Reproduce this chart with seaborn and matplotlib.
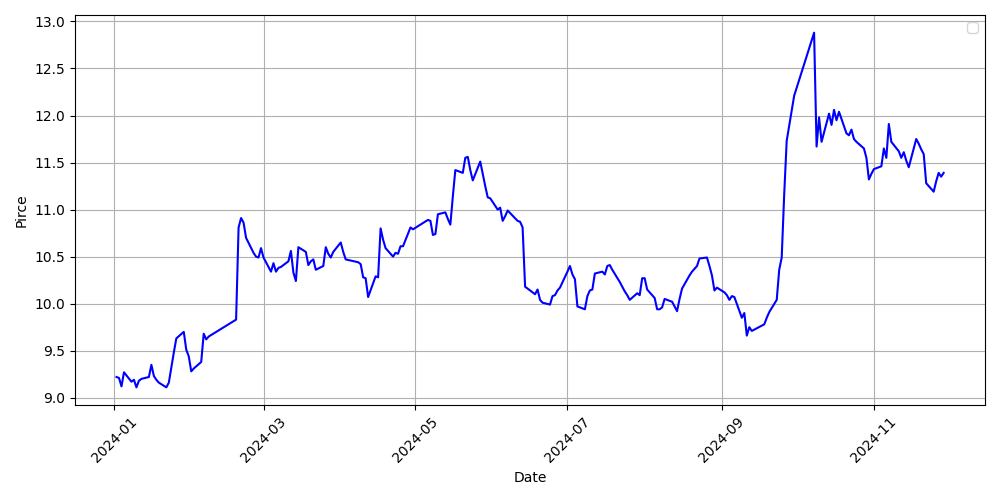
import matplotlib
matplotlib.use("Agg")
import matplotlib.pyplot as plt
import matplotlib.dates as mdates
import seaborn as sns
import pandas as pd

dates = [
    "2024-01-02", "2024-01-03", "2024-01-04", "2024-01-05", "2024-01-08", "2024-01-09",
    "2024-01-10", "2024-01-11", "2024-01-12", "2024-01-15", "2024-01-16", "2024-01-17",
    "2024-01-18", "2024-01-19", "2024-01-22", "2024-01-23", "2024-01-24", "2024-01-25",
    "2024-01-26", "2024-01-29", "2024-01-30", "2024-01-31", "2024-02-01", "2024-02-02",
    "2024-02-05", "2024-02-06", "2024-02-07", "2024-02-08", "2024-02-19", "2024-02-20",
    "2024-02-21", "2024-02-22", "2024-02-23", "2024-02-26", "2024-02-27", "2024-02-28",
    "2024-02-29", "2024-03-01", "2024-03-04", "2024-03-05", "2024-03-06", "2024-03-07",
    "2024-03-08", "2024-03-11", "2024-03-12", "2024-03-13", "2024-03-14", "2024-03-15",
    "2024-03-18", "2024-03-19", "2024-03-20", "2024-03-21", "2024-03-22", "2024-03-25",
    "2024-03-26", "2024-03-27", "2024-03-28", "2024-03-29", "2024-04-01", "2024-04-02",
    "2024-04-03", "2024-04-08", "2024-04-09", "2024-04-10", "2024-04-11", "2024-04-12",
    "2024-04-15", "2024-04-16", "2024-04-17", "2024-04-18", "2024-04-19", "2024-04-22",
    "2024-04-23", "2024-04-24", "2024-04-25", "2024-04-26", "2024-04-29", "2024-04-30",
    "2024-05-06", "2024-05-07", "2024-05-08", "2024-05-09", "2024-05-10", "2024-05-13",
    "2024-05-14", "2024-05-15", "2024-05-16", "2024-05-17", "2024-05-20", "2024-05-21",
    "2024-05-22", "2024-05-23", "2024-05-24", "2024-05-27", "2024-05-28", "2024-05-29",
    "2024-05-30", "2024-05-31", "2024-06-03", "2024-06-04", "2024-06-05", "2024-06-06",
    "2024-06-07", "2024-06-11", "2024-06-12", "2024-06-13", "2024-06-14", "2024-06-17",
    "2024-06-18", "2024-06-19", "2024-06-20", "2024-06-21", "2024-06-24", "2024-06-25",
    "2024-06-26", "2024-06-27", "2024-06-28", "2024-07-01", "2024-07-02", "2024-07-03",
    "2024-07-04", "2024-07-05", "2024-07-08", "2024-07-09", "2024-07-10", "2024-07-11",
    "2024-07-12", "2024-07-15", "2024-07-16", "2024-07-17", "2024-07-18", "2024-07-19",
    "2024-07-22", "2024-07-23", "2024-07-24", "2024-07-25", "2024-07-26", "2024-07-29",
    "2024-07-30", "2024-07-31", "2024-08-01", "2024-08-02", "2024-08-05", "2024-08-06",
    "2024-08-07", "2024-08-08", "2024-08-09", "2024-08-12", "2024-08-13", "2024-08-14",
    "2024-08-15", "2024-08-16", "2024-08-19", "2024-08-20", "2024-08-21", "2024-08-22",
    "2024-08-23", "2024-08-26", "2024-08-27", "2024-08-28", "2024-08-29", "2024-08-30",
    "2024-09-02", "2024-09-03", "2024-09-04", "2024-09-05", "2024-09-06", "2024-09-09",
    "2024-09-10", "2024-09-11", "2024-09-12", "2024-09-13", "2024-09-18", "2024-09-19",
    "2024-09-20", "2024-09-23", "2024-09-24", "2024-09-25", "2024-09-26", "2024-09-27",
    "2024-09-30", "2024-10-08", "2024-10-09", "2024-10-10", "2024-10-11", "2024-10-14",
    "2024-10-15", "2024-10-16", "2024-10-17", "2024-10-18", "2024-10-21", "2024-10-22",
    "2024-10-23", "2024-10-24", "2024-10-25", "2024-10-28", "2024-10-29", "2024-10-30",
    "2024-10-31", "2024-11-01", "2024-11-04", "2024-11-05", "2024-11-06", "2024-11-07",
    "2024-11-08", "2024-11-11", "2024-11-12", "2024-11-13", "2024-11-14", "2024-11-15",
    "2024-11-18", "2024-11-19", "2024-11-20", "2024-11-21", "2024-11-22", "2024-11-25",
    "2024-11-26", "2024-11-27", "2024-11-28", "2024-11-29",
]

prices = [
    9.22, 9.21, 9.12, 9.27, 9.17, 9.19,
    9.11, 9.18, 9.20, 9.22, 9.35, 9.23,
    9.19, 9.16, 9.11, 9.16, 9.32, 9.48,
    9.63, 9.70, 9.51, 9.44, 9.28, 9.31,
    9.38, 9.68, 9.62, 9.65, 9.83, 10.81,
    10.91, 10.86, 10.70, 10.54, 10.50, 10.49,
    10.59, 10.49, 10.34, 10.43, 10.34, 10.38,
    10.39, 10.45, 10.56, 10.33, 10.24, 10.60,
    10.55, 10.41, 10.45, 10.47, 10.36, 10.40,
    10.60, 10.53, 10.49, 10.55, 10.65, 10.55,
    10.47, 10.44, 10.42, 10.28, 10.27, 10.07,
    10.29, 10.28, 10.80, 10.68, 10.59, 10.50,
    10.54, 10.53, 10.61, 10.61, 10.81, 10.79,
    10.89, 10.88, 10.73, 10.74, 10.95, 10.97,
    10.90, 10.84, 11.14, 11.42, 11.39, 11.55,
    11.56, 11.42, 11.31, 11.51, 11.38, 11.25,
    11.13, 11.12, 11.00, 11.02, 10.88, 10.93,
    10.99, 10.88, 10.87, 10.81, 10.18, 10.12,
    10.10, 10.15, 10.04, 10.01, 9.99, 10.08,
    10.09, 10.14, 10.17, 10.34, 10.40, 10.31,
    10.26, 9.97, 9.94, 10.08, 10.14, 10.15,
    10.32, 10.34, 10.31, 10.40, 10.41, 10.36,
    10.23, 10.18, 10.13, 10.09, 10.04, 10.11,
    10.09, 10.27, 10.27, 10.15, 10.06, 9.94,
    9.94, 9.96, 10.05, 10.02, 9.97, 9.92,
    10.05, 10.16, 10.30, 10.34, 10.37, 10.40,
    10.48, 10.49, 10.40, 10.30, 10.14, 10.17,
    10.12, 10.09, 10.04, 10.08, 10.07, 9.85,
    9.90, 9.66, 9.75, 9.71, 9.78, 9.85,
    9.91, 10.04, 10.36, 10.49, 11.16, 11.73,
    12.21, 12.88, 11.67, 11.98, 11.72, 12.02,
    11.90, 12.06, 11.95, 12.04, 11.81, 11.79,
    11.85, 11.75, 11.72, 11.65, 11.55, 11.32,
    11.38, 11.43, 11.46, 11.65, 11.55, 11.91,
    11.72, 11.62, 11.55, 11.61, 11.52, 11.45,
    11.75, 11.70, 11.64, 11.59, 11.28, 11.19,
    11.30, 11.39, 11.35, 11.39,
]

df = pd.DataFrame({"Date": pd.to_datetime(dates), "Pirce": prices})

fig, ax = plt.subplots(figsize=(10, 5), dpi=100)
sns.lineplot(data=df, x="Date", y="Pirce", color="blue", ax=ax)

# ticks every other month, like the original
ax.xaxis.set_major_locator(mdates.MonthLocator(bymonth=[1, 3, 5, 7, 9, 11]))
ax.xaxis.set_major_formatter(mdates.DateFormatter("%Y-%m"))

ax.set_xlabel("Date")
ax.set_ylabel("Pirce")
ax.grid(True)
plt.xticks(rotation=45)
plt.legend()
plt.tight_layout()
plt.savefig("out.png")
